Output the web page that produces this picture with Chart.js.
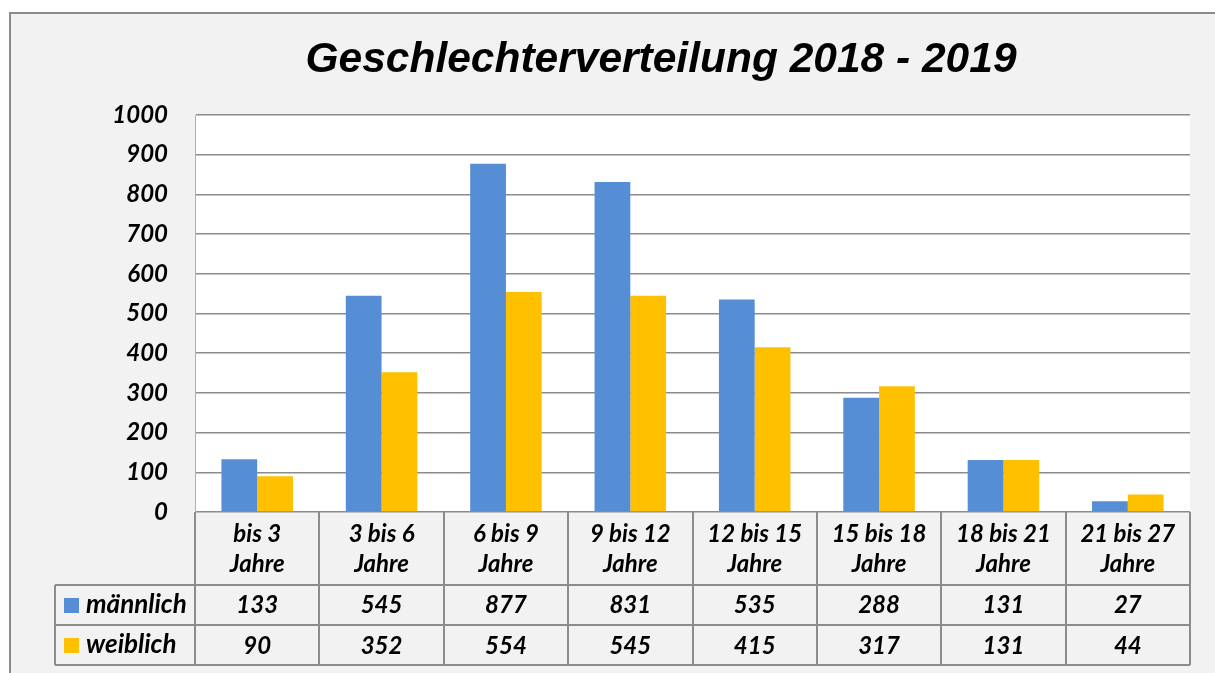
<!DOCTYPE html>
<html lang="de">
<head>
<meta charset="utf-8">
<title>Geschlechterverteilung 2018 - 2019</title>
<script src="https://cdn.jsdelivr.net/npm/chart.js@4.4.1/dist/chart.umd.min.js"></script>
<style>
    html, body { margin: 0; padding: 0; background: #ffffff; }
    #wrap { width: 1215px; height: 673px; position: relative; }
</style>
</head>
<body>
<div id="wrap"><canvas id="genderChart"></canvas></div>
<script>
// Daten
const chartTitle = 'Geschlechterverteilung 2018 - 2019';
const ageGroups = [
    ['bis 3', 'Jahre'],
    ['3 bis 6', 'Jahre'],
    ['6 bis 9', 'Jahre'],
    ['9 bis 12', 'Jahre'],
    ['12 bis 15', 'Jahre'],
    ['15 bis 18', 'Jahre'],
    ['18 bis 21', 'Jahre'],
    ['21 bis 27', 'Jahre']
];
const maleValues = [133, 545, 877, 831, 535, 288, 131, 27];
const femaleValues = [90, 352, 554, 545, 415, 317, 131, 44];
const seriesNames = ['männlich', 'weiblich'];
const yTicks = [0, 100, 200, 300, 400, 500, 600, 700, 800, 900, 1000];

const BLUE = '#558ed5';
const GOLD = '#ffc000';
const LINE = '#8c8c8c';
const LABEL_FONT = 'italic bold 24px Lato, "Open Sans", sans-serif';

// Hintergrund, Rahmen, Titel und weisse Zeichenflaeche
const backgroundPlugin = {
    id: 'excelBackground',
    beforeDraw(chart) {
        const ctx = chart.ctx;
        const area = chart.chartArea;
        ctx.save();
        ctx.fillStyle = '#f2f2f2';
        ctx.fillRect(10, 13, chart.width, chart.height);
        ctx.strokeStyle = LINE;
        ctx.lineWidth = 2;
        ctx.strokeRect(10, 13, chart.width + 20, chart.height + 20);
        ctx.fillStyle = '#ffffff';
        ctx.fillRect(area.left, area.top, area.right - area.left, area.bottom - area.top);

        ctx.fillStyle = '#000000';
        ctx.font = 'italic bold 42.5px "Liberation Sans", Arial, sans-serif';
        ctx.textAlign = 'center';
        ctx.textBaseline = 'alphabetic';
        ctx.fillText(chartTitle, 661, 72);
        ctx.restore();
    }
};

// Datentabelle unter dem Diagramm
const dataTablePlugin = {
    id: 'dataTable',
    afterDraw(chart) {
        const ctx = chart.ctx;
        const area = chart.chartArea;
        const xScale = chart.scales.x;
        const n = ageGroups.length;
        const step = (xScale.right - xScale.left) / n;
        const headTop = area.bottom;
        const row1 = headTop + 73;
        const row2 = row1 + 40;
        const row3 = row2 + 40;
        const legendLeft = 55;

        ctx.save();
        ctx.strokeStyle = LINE;
        ctx.lineWidth = 2;

        // Linien
        ctx.beginPath();
        for (let i = 0; i <= n; i++) {
            const x = Math.round(xScale.left + i * step);
            ctx.moveTo(x, headTop);
            ctx.lineTo(x, row3);
        }
        ctx.moveTo(legendLeft, row1);
        ctx.lineTo(legendLeft, row3);
        [row1, row2, row3].forEach(y => {
            ctx.moveTo(legendLeft, y);
            ctx.lineTo(xScale.right, y);
        });
        ctx.stroke();

        // Texte
        ctx.fillStyle = '#000000';
        ctx.font = LABEL_FONT;
        ctx.textAlign = 'center';
        ctx.textBaseline = 'middle';
        ageGroups.forEach((lines, i) => {
            const cx = xScale.getPixelForValue(i);
            ctx.fillText(lines[0], cx, headTop + 22);
            ctx.fillText(lines[1], cx, headTop + 52);
            ctx.fillText(String(maleValues[i]), cx, row1 + 20);
            ctx.fillText(String(femaleValues[i]), cx, row2 + 21);
        });

        // Legende
        const colors = [BLUE, GOLD];
        const rowTops = [row1, row2];
        ctx.textAlign = 'left';
        ctx.font = 'italic bold 26px Lato, "Open Sans", sans-serif';
        seriesNames.forEach((name, k) => {
            const cy = rowTops[k] + 20;
            ctx.fillStyle = colors[k];
            ctx.fillRect(64, cy - 7, 15, 15);
            ctx.fillStyle = '#000000';
            ctx.fillText(name, 86, cy);
        });
        ctx.restore();
    }
};

const genderChart = new Chart(document.getElementById('genderChart'), {
    type: 'bar',
    data: {
        labels: ageGroups,
        datasets: [{
            label: seriesNames[0],
            data: maleValues,
            backgroundColor: BLUE,
            categoryPercentage: 0.575,
            barPercentage: 1
        }, {
            label: seriesNames[1],
            data: femaleValues,
            backgroundColor: GOLD,
            categoryPercentage: 0.575,
            barPercentage: 1
        }]
    },
    options: {
        responsive: true,
        maintainAspectRatio: false,
        animation: false,
        devicePixelRatio: 1,
        layout: { padding: { left: 0, right: 25, top: 115, bottom: 0 } },
        plugins: {
            legend: { display: false },
            tooltip: { enabled: false },
            title: { display: false }
        },
        scales: {
            x: {
                grid: { display: false },
                border: { display: false },
                ticks: { display: false },
                afterFit(scale) { scale.height = 161; }
            },
            y: {
                min: 0,
                max: 1000,
                afterBuildTicks(scale) { scale.ticks = yTicks.map(v => ({ value: v })); },
                afterFit(scale) { scale.width = 195; },
                grid: { color: LINE, lineWidth: 1.5, drawTicks: false },
                border: { display: true, color: '#b0b0b0', width: 1 },
                ticks: {
                    color: '#000000',
                    padding: 27,
                    callback: value => String(value),
                    font: { family: 'Lato, "Open Sans", sans-serif', size: 24, style: 'italic', weight: 'bold' }
                }
            }
        }
    },
    plugins: [backgroundPlugin, dataTablePlugin]
});
</script>
</body>
</html>
